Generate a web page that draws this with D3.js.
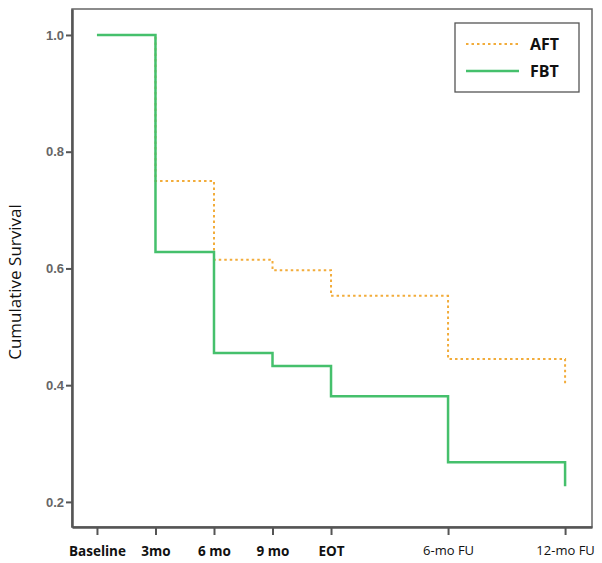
<!DOCTYPE html>
<html><head><meta charset="utf-8">
<script src="https://cdn.jsdelivr.net/npm/d3@7/dist/d3.min.js"></script>
<style>body{margin:0;background:#fff}</style>
</head><body>
<svg id="c" width="602" height="563"></svg>
<script>
const tickLabels = ["Baseline","3mo","6 mo","9 mo","EOT","6-mo FU","12-mo FU"];
const tickMonths = [0,3,6,9,12,18,24];
const yTicks = [0.2,0.4,0.6,0.8,1.0];
const series = ["AFT","FBT"];
// step points: [month, survival]
const aftTimes = [0,3,6,9,12,18,24];
const aftValues = [1.0,0.75,0.615,0.597,0.553,0.445,0.40];
const fbtTimes = [0,3,6,9,12,18,24];
const fbtValues = [1.0,0.628,0.455,0.433,0.381,0.268,0.227];

const svg = d3.select("#c");
const L=72,R=592,T=9,B=527;
const x = d3.scaleLinear().domain([-1.28,25.38]).range([L,R]);
const y = d3.scaleLinear().domain([0.157,1.0445]).range([B,T]);

svg.append("rect").attr("x",L).attr("y",T).attr("width",R-L).attr("height",B-T)
  .attr("fill","none").attr("stroke","#666").attr("stroke-width",1.5);

const yAxis = d3.axisLeft(y).tickValues(yTicks).tickFormat(d3.format(".1f")).tickSize(6).tickSizeOuter(0);
const gy = svg.append("g").attr("transform",`translate(${L},0)`).call(yAxis);
gy.select(".domain").attr("stroke","#555").attr("stroke-width",2.5);
gy.selectAll(".tick line").attr("stroke","#555").attr("stroke-width",2);
gy.selectAll(".tick text").attr("fill","#666").attr("font-family","Liberation Sans, Arial").attr("font-size",13).attr("font-weight","bold").attr("x",-8);

const xAxis = d3.axisBottom(x).tickValues(tickMonths).tickFormat((d,i)=>tickLabels[i]).tickSize(8).tickSizeOuter(0);
const gx = svg.append("g").attr("transform",`translate(0,${B})`).call(xAxis);
gx.select(".domain").attr("stroke","#555").attr("stroke-width",2.5);
gx.selectAll(".tick line").attr("stroke","#555").attr("stroke-width",2);
gx.selectAll(".tick text").attr("fill","#111").attr("font-family","Open Sans, Liberation Sans, sans-serif")
  .attr("font-size",(d,i)=>i<5?13.5:13).attr("font-weight",(d,i)=>i<5?"bold":"normal").attr("dy","1.3em");

svg.append("text").attr("transform","translate(21,282) rotate(-90)").attr("text-anchor","middle")
  .attr("font-family","Open Sans, Liberation Sans, sans-serif").attr("font-size",17).attr("fill","#111")
  .text("Cumulative Survival");

function pathData(ts,vs){
  let d = `M${x(ts[0])},${y(vs[0])}`;
  for(let i=1;i<ts.length;i++){
    d += `H${x(ts[i])}V${y(vs[i])}`;
  }
  return d;
}
svg.append("path").attr("d",pathData(aftTimes,aftValues)).attr("fill","none")
  .attr("stroke","#f2ac3a").attr("stroke-width",2).attr("stroke-dasharray","2.5,3");
svg.append("path").attr("d",pathData(fbtTimes,fbtValues)).attr("fill","none")
  .attr("stroke","#45c06c").attr("stroke-width",2.5);

const lg = svg.append("g");
lg.append("rect").attr("x",455).attr("y",23).attr("width",124).attr("height",69)
  .attr("fill","#fff").attr("stroke","#555").attr("stroke-width",1.3);
const lgStyles = [{c:"#f2ac3a",w:2,da:"2.5,3"},{c:"#45c06c",w:2.5,da:null}];
series.forEach((s,i)=>{
  const yy = 44 + i*27;
  lg.append("line").attr("x1",466).attr("x2",519).attr("y1",yy).attr("y2",yy)
    .attr("stroke",lgStyles[i].c).attr("stroke-width",lgStyles[i].w).attr("stroke-dasharray",lgStyles[i].da);
  lg.append("text").attr("x",530).attr("y",yy+6).attr("font-family","Open Sans, Liberation Sans, sans-serif")
    .attr("font-size",16).attr("font-weight","bold").attr("fill","#111").text(s);
});
</script>
</body></html>
